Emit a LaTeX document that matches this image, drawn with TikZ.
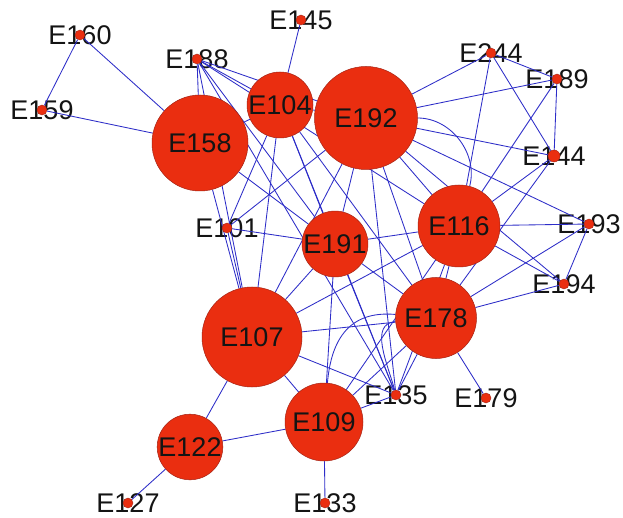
\documentclass[tikz,border=0pt]{standalone}
\usepackage{fontspec}
\setmainfont{Liberation Sans}
\pgfdeclarelayer{paper}
\pgfdeclarelayer{labels}
\pgfdeclarelayer{edges}
\pgfsetlayers{paper,labels,edges,main}
\definecolor{nodered}{RGB}{234,46,16}
\definecolor{rimred}{RGB}{165,35,20}
\definecolor{edgeblue}{RGB}{45,45,200}
\definecolor{ink}{RGB}{20,20,20}
\tikzset{
  hub/.style={circle, fill=nodered, draw=rimred, line width=0.5pt, inner sep=0pt,
    text=ink, font=\fontsize{27}{30}\selectfont},
  dot/.style={circle, fill=nodered, draw=rimred, line width=0.4pt, inner sep=0pt, minimum size=10pt},
  tag/.style={inner sep=0pt, text=ink, font=\fontsize{27}{30}\selectfont},
  link/.style={draw=edgeblue, line width=0.85pt}
}
\begin{document}
\begin{tikzpicture}[x=1pt,y=-1pt]
\begin{pgfonlayer}{paper}
\fill[white] (0,0) rectangle (623,518);
\end{pgfonlayer}
\useasboundingbox (0,0) rectangle (623,518);

% large vertices
\node[hub, minimum size=96pt]  (E158) at (200,143) {E158};
\node[hub, minimum size=66pt]  (E104) at (280,105) {E104};
\node[hub, minimum size=103pt] (E192) at (366,118) {E192};
\node[hub, minimum size=82pt]  (E116) at (459,226) {E116};
\node[hub, minimum size=58pt]  (E191) at (335,244) {E191};
\node[hub, minimum size=100pt] (E107) at (252,337) {E107};
\node[hub, minimum size=81pt]  (E178) at (436,318) {E178};
\node[hub, minimum size=78pt]  (E109) at (324,422) {E109};
\node[hub, minimum size=64pt]  (E122) at (190,447) {E122};

% small vertices
\node[dot] (E160) at (80,35) {};
\node[dot] (E159) at (42,110) {};
\node[dot] (E188) at (197,59) {};
\node[dot] (E145) at (301,20) {};
\node[dot] (E244) at (491,53) {};
\node[dot] (E189) at (557,79) {};
\node[dot, minimum size=12pt] (E144) at (554,156) {};
\node[dot] (E193) at (589,224) {};
\node[dot] (E194) at (564,284) {};
\node[dot] (E101) at (227,228) {};
\node[dot] (E135) at (396,395) {};
\node[dot] (E179) at (486,398) {};
\node[dot] (E133) at (325,503) {};
\node[dot] (E127) at (128,503) {};

% names of the small vertices
\begin{pgfonlayer}{labels}
\node[tag] (t160) at (E160) {E160};
\node[tag] (t159) at (E159) {E159};
\node[tag] (t188) at (E188) {E188};
\node[tag] (t145) at (E145) {E145};
\node[tag] (t244) at (E244) {E244};
\node[tag] (t189) at (E189) {E189};
\node[tag] (t144) at (E144) {E144};
\node[tag] (t193) at (E193) {E193};
\node[tag] (t194) at (E194) {E194};
\node[tag] (t101) at (E101) {E101};
\node[tag] (t135) at (E135) {E135};
\node[tag] (t179) at (E179) {E179};
\node[tag] (t133) at (E133) {E133};
\node[tag] (t127) at (E127) {E127};
\end{pgfonlayer}

% edges
\begin{pgfonlayer}{edges}
\draw[link] (E160) -- (E159);
\draw[link] (E160) -- (E158);
\draw[link] (E159) -- (E158);
\draw[link] (E145) -- (E104);
\draw[link] (E188) -- (E158);
\draw[link] (E188) -- (E107);
\draw[link] (E188) -- (E104);
\draw[link] (E188) -- (E192);
\draw[link] (E188) -- (E116);
\draw[link] (E188) -- (E191);
\draw[link] (E188) -- (E135);
\draw[link] (E158) -- (E104);
\draw[link] (E158) -- (E107);
\draw[link] (E158) -- (E191);
\draw[link] (E104) -- (E101);
\draw[link] (E104) -- (E107);
\draw[link] (E104) -- (E191);
\draw[link] (E104) -- (E178);
\draw[link] (E104) -- (E135);
\draw[link] (E104) -- (E192);
\draw[link] (E101) -- (E191);
\draw[link] (E101) -- (E192);
\draw[link] (E101) -- (E107);
\draw[link] (E192) -- (E244);
\draw[link] (E192) -- (E189);
\draw[link] (E192) -- (E144);
\draw[link] (E192) -- (E193);
\draw[link] (E192) -- (E116);
\draw[link] (E192) to[out=0,in=75] (E116);
\draw[link] (E192) -- (E194);
\draw[link] (E192) -- (E178);
\draw[link] (E192) -- (E191);
\draw[link] (E192) -- (E107);
\draw[link] (E192) -- (E135);
\draw[link] (E116) -- (E244);
\draw[link] (E116) -- (E189);
\draw[link] (E116) -- (E144);
\draw[link] (E116) -- (E193);
\draw[link] (E116) -- (E194);
\draw[link] (E116) -- (E191);
\draw[link] (E116) -- (E178);
\draw[link] (E116) -- (E135);
\draw[link] (E116) -- (E109);
\draw[link] (E116) -- (E107);
\draw[link] (E178) -- (E194);
\draw[link] (E178) -- (E193);
\draw[link] (E178) -- (E179);
\draw[link] (E178) -- (E135);
\draw[link] (E178) -- (E109);
\draw[link] (E178) to[out=175,in=85,looseness=1.2] (E109);
\draw[link] (E178) to[out=185,in=105] (E135);
\draw[link] (E178) -- (E107);
\draw[link] (E178) -- (E191);
\draw[link] (E178) -- (E144);
\draw[link] (E109) -- (E133);
\draw[link] (E109) -- (E122);
\draw[link] (E109) -- (E135);
\draw[link] (E107) -- (E109);
\draw[link] (E107) -- (E122);
\draw[link] (E107) -- (E135);
\draw[link] (E107) -- (E191);
\draw[link] (E122) -- (E127);
\draw[link] (E191) -- (E135);
\draw[link] (E191) -- (E109);
\draw[link] (E244) -- (E189);
\draw[link] (E244) -- (E144);
\draw[link] (E189) -- (E144);
\draw[link] (E193) -- (E194);
\end{pgfonlayer}
\end{tikzpicture}
\end{document}
